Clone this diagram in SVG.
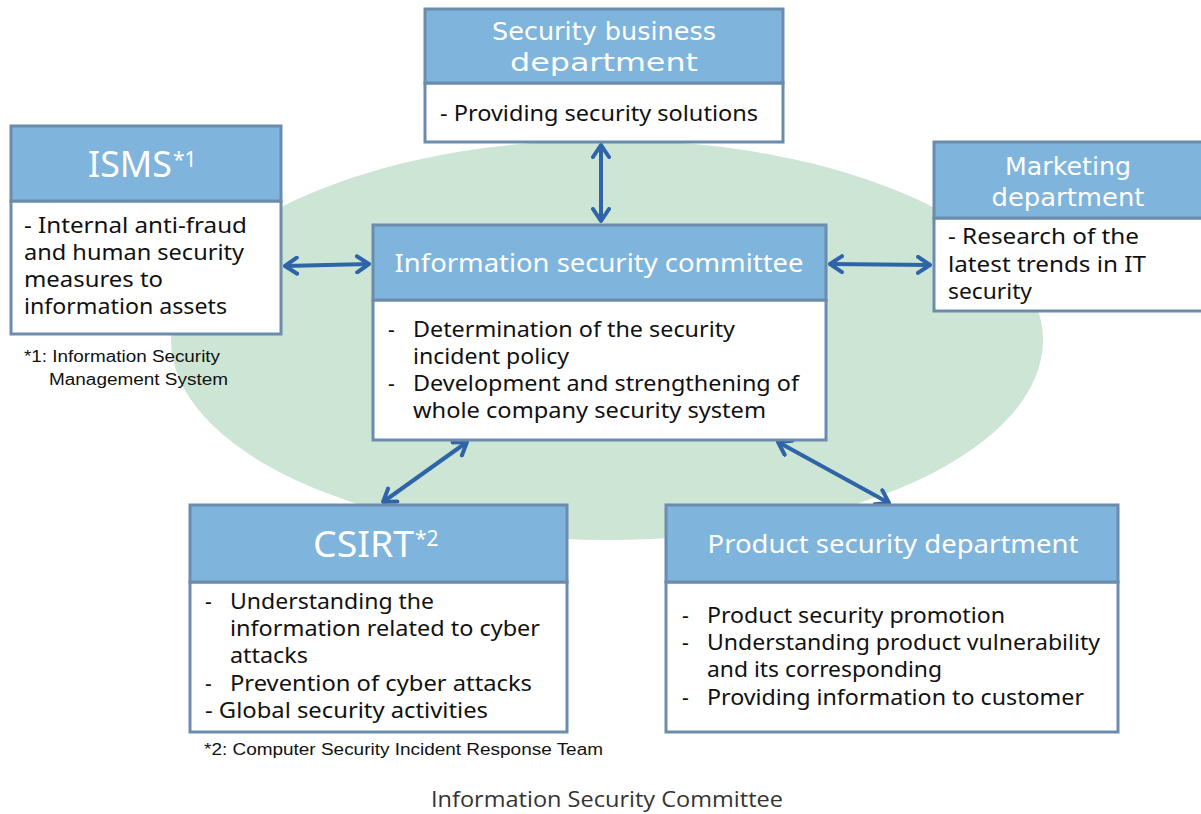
<svg xmlns="http://www.w3.org/2000/svg" width="1201" height="814" viewBox="0 0 1201 814">
<style>
.hd{fill:#7fb4dc;stroke:#6b8cad;stroke-width:3}
.bd{fill:#ffffff;stroke:#6b8cad;stroke-width:3}
.ht{font-family:"Noto Sans","DejaVu Sans",sans-serif;fill:#ffffff;font-size:26px}
.h2{font-family:"DejaVu Sans",sans-serif;fill:#ffffff;font-size:25px}
.bt{font-family:"Noto Sans","DejaVu Sans",sans-serif;fill:#111111;font-size:21px}
.fn{font-family:"Liberation Sans",Arial,sans-serif;fill:#111111;font-size:16px}
.cap{font-family:"Open Sans","Liberation Sans",sans-serif;fill:#333333;font-size:22px}
.ar{stroke:#2f64a9;stroke-width:4;fill:none;marker-start:url(#ah);marker-end:url(#ah)}
</style>
<defs>
<marker id="ah" viewBox="0 0 16 20" refX="14" refY="10" markerWidth="16" markerHeight="20" markerUnits="userSpaceOnUse" orient="auto-start-reverse">
<path d="M2,2 L14,10 L2,18" fill="none" stroke="#2f64a9" stroke-width="4" stroke-linecap="round" stroke-linejoin="round"/>
</marker>
</defs>
<rect width="1201" height="814" fill="#ffffff"/>
<ellipse id="bg-ellipse" cx="607" cy="340" rx="436" ry="200" fill="#cce5d5"/>

<g id="connectors">
<line class="ar" x1="601" y1="145" x2="601" y2="221"/>
<line class="ar" x1="285" y1="266" x2="369" y2="264"/>
<line class="ar" x1="830" y1="264" x2="930" y2="265"/>
<line class="ar" x1="383" y1="502" x2="467" y2="442"/>
<line class="ar" x1="778" y1="442" x2="889" y2="503"/>
</g>

<g id="security-business">
<rect class="bd" x="425" y="83" width="358" height="59"/>
<rect class="hd" x="425" y="9" width="358" height="74"/>
<text class="h2" x="604" y="40" text-anchor="middle" textLength="224" lengthAdjust="spacingAndGlyphs">Security business</text>
<text class="h2" x="604" y="71" text-anchor="middle" textLength="188" lengthAdjust="spacingAndGlyphs">department</text>
<text class="bt" x="440" y="121" textLength="318" lengthAdjust="spacingAndGlyphs">- Providing security solutions</text>
</g>

<g id="isms">
<rect class="bd" x="11" y="201" width="270" height="133"/>
<rect class="hd" x="11" y="126" width="270" height="75"/>
<text class="ht" x="88" y="177" style="font-size:36px" textLength="84" lengthAdjust="spacingAndGlyphs">ISMS</text>
<text class="ht" x="173" y="167" style="font-size:21px">*1</text>
<text class="bt" x="24" y="233" textLength="223" lengthAdjust="spacingAndGlyphs">- Internal anti-fraud</text>
<text class="bt" x="24" y="260" textLength="220" lengthAdjust="spacingAndGlyphs">and human security</text>
<text class="bt" x="24" y="287" textLength="139" lengthAdjust="spacingAndGlyphs">measures to</text>
<text class="bt" x="24" y="314" textLength="203" lengthAdjust="spacingAndGlyphs">information assets</text>
<text class="fn" x="24" y="362" textLength="196" lengthAdjust="spacingAndGlyphs">*1: Information Security</text>
<text class="fn" x="49" y="385" textLength="179" lengthAdjust="spacingAndGlyphs">Management System</text>
</g>

<g id="committee">
<rect class="bd" x="373" y="300" width="453" height="140"/>
<rect class="hd" x="373" y="225" width="453" height="75"/>
<text class="ht" x="599" y="272" text-anchor="middle" textLength="409" lengthAdjust="spacingAndGlyphs">Information security committee</text>
<text class="bt" x="388" y="337">-</text>
<text class="bt" x="413" y="337" textLength="322" lengthAdjust="spacingAndGlyphs">Determination of the security</text>
<text class="bt" x="413" y="364" textLength="156" lengthAdjust="spacingAndGlyphs">incident policy</text>
<text class="bt" x="388" y="391">-</text>
<text class="bt" x="413" y="391" textLength="386" lengthAdjust="spacingAndGlyphs">Development and strengthening of</text>
<text class="bt" x="413" y="418" textLength="353" lengthAdjust="spacingAndGlyphs">whole company security system</text>
</g>

<g id="marketing">
<rect class="bd" x="934" y="218" width="280" height="93"/>
<rect class="hd" x="934" y="142" width="280" height="76"/>
<text class="h2" x="1068" y="175" text-anchor="middle" textLength="126" lengthAdjust="spacingAndGlyphs">Marketing</text>
<text class="h2" x="1068" y="206" text-anchor="middle" textLength="153" lengthAdjust="spacingAndGlyphs">department</text>
<text class="bt" x="948" y="244" textLength="191" lengthAdjust="spacingAndGlyphs">- Research of the</text>
<text class="bt" x="948" y="272" textLength="198" lengthAdjust="spacingAndGlyphs">latest trends in IT</text>
<text class="bt" x="948" y="299" textLength="84" lengthAdjust="spacingAndGlyphs">security</text>
</g>

<g id="csirt">
<rect class="bd" x="190" y="582" width="377" height="150"/>
<rect class="hd" x="190" y="505" width="377" height="77"/>
<text class="ht" x="313" y="557" style="font-size:36px" textLength="101" lengthAdjust="spacingAndGlyphs">CSIRT</text>
<text class="ht" x="415" y="546" style="font-size:21px">*2</text>
<text class="bt" x="205" y="609">-</text>
<text class="bt" x="230" y="609" textLength="204" lengthAdjust="spacingAndGlyphs">Understanding the</text>
<text class="bt" x="230" y="636" textLength="310" lengthAdjust="spacingAndGlyphs">information related to cyber</text>
<text class="bt" x="230" y="663" textLength="78" lengthAdjust="spacingAndGlyphs">attacks</text>
<text class="bt" x="205" y="691">-</text>
<text class="bt" x="230" y="691" textLength="302" lengthAdjust="spacingAndGlyphs">Prevention of cyber attacks</text>
<text class="bt" x="205" y="718" textLength="283" lengthAdjust="spacingAndGlyphs">- Global security activities</text>
<text class="fn" x="204" y="755" textLength="399" lengthAdjust="spacingAndGlyphs">*2: Computer Security Incident Response Team</text>
</g>

<g id="product-security">
<rect class="bd" x="666" y="582" width="452" height="150"/>
<rect class="hd" x="666" y="505" width="452" height="77"/>
<text class="ht" x="893" y="553" text-anchor="middle" textLength="371" lengthAdjust="spacingAndGlyphs">Product security department</text>
<text class="bt" x="682" y="623">-</text>
<text class="bt" x="707" y="623" textLength="298" lengthAdjust="spacingAndGlyphs">Product security promotion</text>
<text class="bt" x="682" y="650">-</text>
<text class="bt" x="707" y="650" textLength="393" lengthAdjust="spacingAndGlyphs">Understanding product vulnerability</text>
<text class="bt" x="707" y="677" textLength="235" lengthAdjust="spacingAndGlyphs">and its corresponding</text>
<text class="bt" x="682" y="705">-</text>
<text class="bt" x="707" y="705" textLength="377" lengthAdjust="spacingAndGlyphs">Providing information to customer</text>
</g>

<text id="caption" class="cap" x="431" y="807" textLength="352" lengthAdjust="spacingAndGlyphs">Information Security Committee</text>
</svg>
